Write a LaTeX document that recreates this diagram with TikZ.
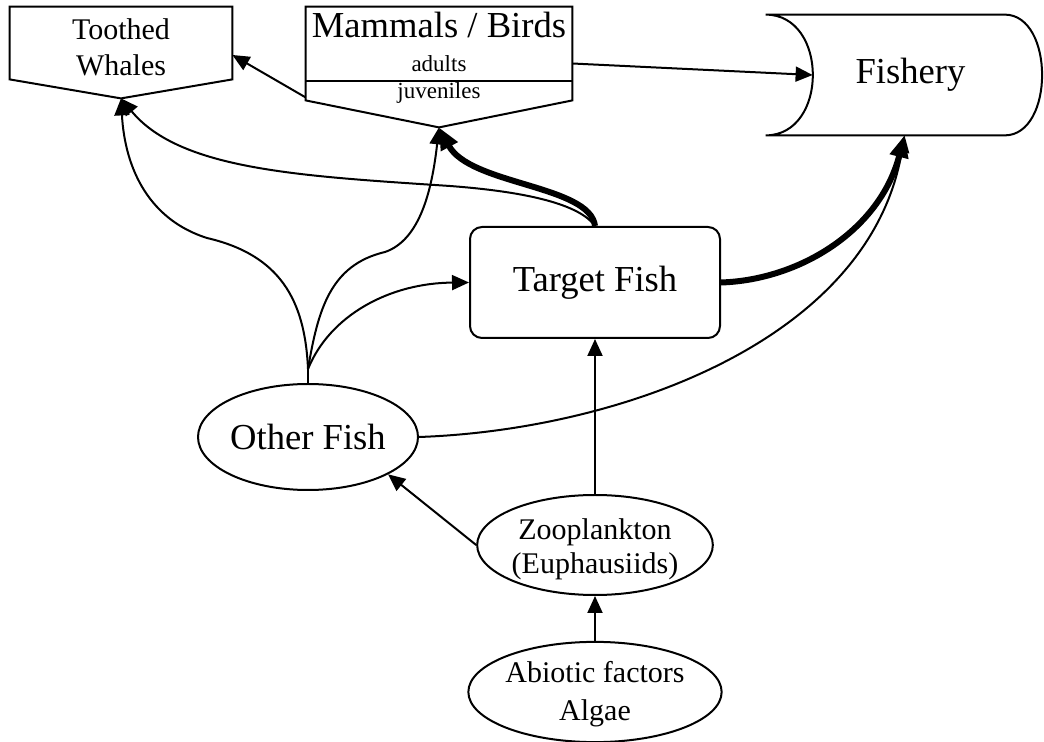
\documentclass[tikz,border=0pt]{standalone}
\usepackage{fontspec}
\setmainfont{Liberation Serif}
\usepackage{tikz}
\usetikzlibrary{shapes.geometric, arrows.meta, positioning, calc}
\newcommand{\fbig}{\fontsize{18.3pt}{22pt}\selectfont}
\newcommand{\fmid}{\fontsize{15pt}{17pt}\selectfont}
\newcommand{\fsmall}{\fontsize{11.5pt}{13pt}\selectfont}
\tikzstyle{oval} = [ellipse, draw, line width=1pt, inner sep=0pt, align=center, font=\fmid]
\tikzstyle{rbox} = [rectangle, rounded corners=6pt, draw, line width=1pt, minimum width=125pt, minimum height=55.5pt, font=\fbig]
\tikzstyle{frame} = [rectangle, inner sep=0pt, align=center]
\tikzstyle{outline} = [line width=1pt, line join=miter]
\tikzstyle{arrow} = [line width=1pt, -{Triangle[length=8.5pt, width=7.5pt]}]
\tikzstyle{bigarrow} = [line width=3pt, -{Triangle[length=11pt, width=9pt]}]

\begin{document}
\begin{tikzpicture}[x=0.5pt, y=-0.5pt]
    \useasboundingbox (0,0) rectangle (1044,742);

    % Toothed whales
    \node[frame, minimum width=111pt, minimum height=36pt, font=\fmid, text depth=0pt] (tw) at (121,43) {\rule{0pt}{14.2pt}Toothed\\[1pt]Whales};
    \coordinate (tw-tip) at ($(tw.south)+(0,19)$);
    \draw[outline] (tw.north west) -- (tw.north east) -- (tw.south east) -- (tw-tip) -- (tw.south west) -- cycle;

    % Mammals / birds
    \node[frame, minimum width=133pt, minimum height=46.5pt] (mb) at (439,53.5) {};
    \coordinate (mb-tip) at ($(mb.south)+(0,27)$);
    \draw[outline] (mb.north west) -- (mb.north east) -- (mb.south east) -- (mb-tip) -- (mb.south west) -- cycle;
    \draw[outline] ($(mb.south west)+(0,-19)$) -- ($(mb.south east)+(0,-19)$);
    \node[font=\fbig, anchor=base, inner sep=0pt] (mb-name) at (439,38) {Mammals / Birds};
    \node[font=\fsmall, anchor=base, inner sep=0pt] (mb-adult) at (439,72) {adults};
    \node[font=\fsmall, anchor=base, inner sep=0pt] (mb-juv) at (439,99) {juveniles};

    % Fishery
    \node[frame, minimum width=138.5pt, minimum height=60pt, font=\fbig] (fs) at (904.5,75) {\hspace{6pt}Fishery};
    \coordinate (fs-in) at ($(fs.west)+(47,0)$);
    \draw[outline] (fs.south west) .. controls +(63,0) and +(63,0) .. (fs.north west) -- ++(239,0)
        .. controls +(50,0) and +(50,0) .. ($(fs.south west)+(239,0)$) -- cycle;

    % Fish and plankton
    \node[rbox] (tf) at (595,282.5) {Target Fish};
    \node[oval, minimum width=105pt, minimum height=53pt, font=\fbig] (of) at (308,437) {Other Fish};
    \node[oval, minimum width=105.5pt, minimum height=50pt] (zp) at (595,545) {\rule{0pt}{14.2pt}Zooplankton\\[0pt](Euphausiids)};
    \node[oval, minimum width=105pt, minimum height=48.5pt] (ab) at (595,692) {\rule{0pt}{13.2pt}Abiotic factors\\[2pt]Algae};
    \coordinate (fork) at ($(of.north)+(0,-14)$);

    % Arrows
    \draw[arrow] (ab) -- (zp);
    \draw[arrow] (zp) -- (tf);
    \draw[arrow] (zp.west) -- (of.-25);
    \draw[line width=1pt] (of.north) -- (fork);
    \draw[arrow] (fork) .. controls (305,300) and (280,255) .. (207,238) .. controls (150,220) and (125,170) .. (tw-tip);
    \draw[arrow] (fork) .. controls (318,310) and (330,265) .. (385,252) .. controls (420,240) and (432,190) .. (mb-tip);
    \draw[arrow] (fork) .. controls (330,315) and (390,283) .. (tf.west);
    \draw[arrow] (tf.north) .. controls (580,205) and (530,192) .. (450,186) .. controls (300,176) and (180,170) .. (tw-tip);
    \draw[bigarrow] (tf.north) .. controls (590,185) and (470,185) .. (mb-tip);
    \draw[bigarrow] (tf.east) .. controls (800,280) and (880,230) .. (fs.south);
    \draw[arrow] (of.east) .. controls (620,430) and (870,340) .. (fs.south);
    \draw[arrow] ([yshift=1.5pt]mb.south west) -- ([yshift=-6pt]tw.east);
    \draw[arrow] ([yshift=-5pt]mb.east) -- (fs-in);
\end{tikzpicture}
\end{document}
